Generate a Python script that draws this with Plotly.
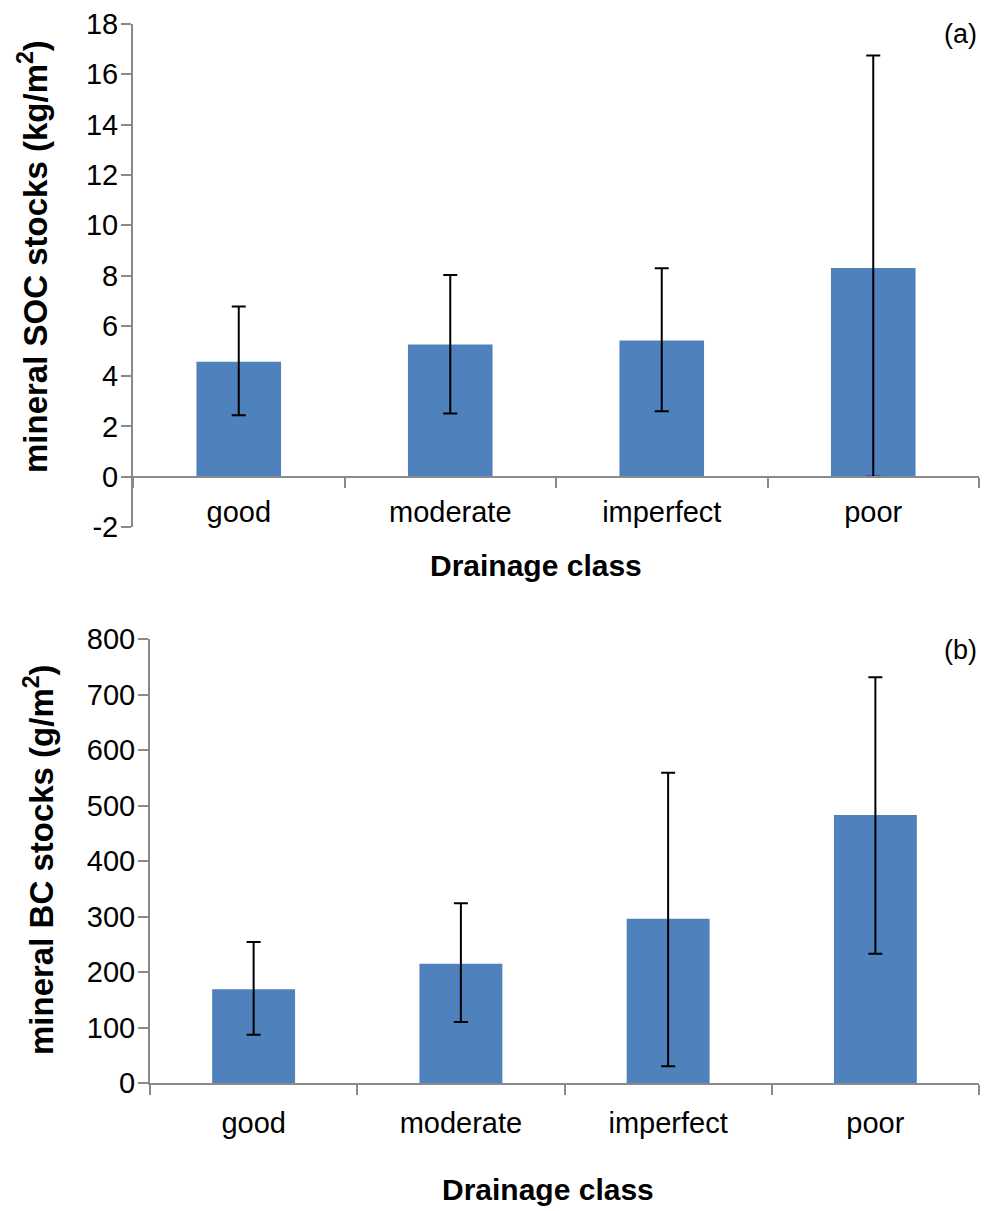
import plotly.graph_objects as go

# Drainage classes shared by both panels
classes = ["good", "moderate", "imperfect", "poor"]

# (a) mineral SOC stocks, kg/m2: mean and error bar extents
soc_mean = [4.57, 5.26, 5.42, 8.30]
soc_err_plus = [2.20, 2.76, 2.87, 8.45]
soc_err_minus = [2.13, 2.75, 2.82, 8.30]

# (b) mineral BC stocks, g/m2: mean and error bar extents
bc_mean = [169, 215, 296, 483]
bc_err_plus = [85, 109, 263, 248]
bc_err_minus = [82, 105, 266, 250]

soc_ticks = list(range(-2, 19, 2))
soc_ticktext = [str(v) for v in soc_ticks]  # plain hyphen for "-2"
bc_ticks = list(range(0, 801, 100))

W, H = 992, 1211
BAR = "#4F81BD"
AXIS = "#8A8A8A"
FONT = "Arial, Liberation Sans, sans-serif"


def px_x(x):
    return x / W


def px_y(y):
    return 1 - y / H


fig = go.Figure()

fig.add_trace(go.Bar(
    x=classes, y=soc_mean, marker=dict(color=BAR, line=dict(width=0)),
    error_y=dict(type="data", symmetric=False, array=soc_err_plus,
                 arrayminus=soc_err_minus, color="black", thickness=2, width=7),
    xaxis="x", yaxis="y", showlegend=False,
))
fig.add_trace(go.Bar(
    x=classes, y=bc_mean, marker=dict(color=BAR, line=dict(width=0)),
    error_y=dict(type="data", symmetric=False, array=bc_err_plus,
                 arrayminus=bc_err_minus, color="black", thickness=2, width=7),
    xaxis="x2", yaxis="y2", showlegend=False,
))

tick_font = dict(family=FONT, size=29, color="black")

common_x = dict(
    showline=True, linecolor=AXIS, linewidth=2,
    ticks="outside", tickson="boundaries", ticklen=10, tickwidth=2, tickcolor=AXIS,
    tickfont=tick_font, showgrid=False, zeroline=False, layer="above traces",
    automargin=False,
)
common_y = dict(
    showline=True, linecolor=AXIS, linewidth=2,
    ticks="outside", ticklen=10, tickwidth=2, tickcolor=AXIS,
    tickfont=tick_font, showgrid=False, zeroline=False, layer="above traces",
    ticklabelstandoff=-3, automargin=False,
)

fig.update_layout(
    width=W, height=H,
    margin=dict(l=0, r=0, t=0, b=0, autoexpand=False),
    paper_bgcolor="white", plot_bgcolor="white",
    bargap=0.6,
    font=dict(family=FONT, color="black"),
    xaxis=dict(domain=[px_x(133), px_x(979)], anchor="free",
               position=px_y(477), ticklabelstandoff=9, **common_x),
    yaxis=dict(domain=[px_y(527), px_y(24)], range=[-2, 18],
               tickvals=soc_ticks, ticktext=soc_ticktext, anchor="x", **common_y),
    xaxis2=dict(domain=[px_x(150), px_x(979)], anchor="y2",
                ticklabelstandoff=13, **common_x),
    yaxis2=dict(domain=[px_y(1083), px_y(639)], range=[0, 800],
                tickvals=bc_ticks, anchor="x2", **common_y),
)

title_font = dict(family=FONT, size=33, color="black", weight="bold")
xtitle_font = dict(family=FONT, size=30, color="black", weight="bold")
panel_font = dict(family=FONT, size=27, color="black")

annotations = [
    dict(text="mineral SOC stocks (kg/m<sup>2</sup>)", x=px_x(33), y=px_y(257),
         textangle=-90, font=title_font),
    dict(text="mineral BC stocks (g/m<sup>2</sup>)", x=px_x(39), y=px_y(860),
         textangle=-90, font=title_font),
    dict(text="Drainage class", x=px_x(536), y=px_y(565), font=xtitle_font),
    dict(text="Drainage class", x=px_x(548), y=px_y(1189), font=xtitle_font),
    dict(text="(a)", x=px_x(960), y=px_y(34), font=panel_font),
    dict(text="(b)", x=px_x(960), y=px_y(650), font=panel_font),
]
for a in annotations:
    fig.add_annotation(xref="paper", yref="paper", showarrow=False,
                       xanchor="center", yanchor="middle", **a)

fig.write_html("out.html")
